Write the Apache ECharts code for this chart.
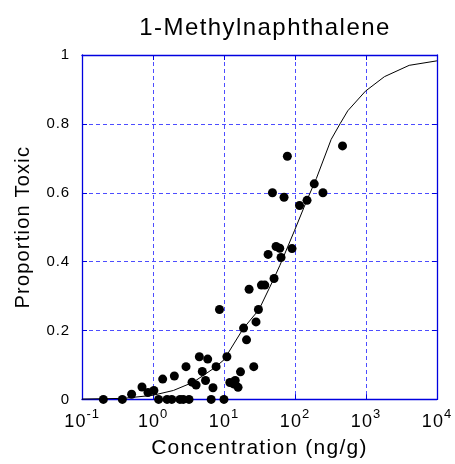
<!DOCTYPE html>
<html>
<head>
<meta charset="utf-8">
<script src="https://cdn.jsdelivr.net/npm/echarts@6/dist/echarts.min.js"></script>
<style>
html,body{margin:0;padding:0;background:#fff;}
#chart{width:455px;height:464px;}
</style>
</head>
<body>
<div id="chart"></div>
<script>
// Observed data points
var pointConc = [0.2, 0.37, 1.2, 1.58, 1.84, 2.4, 2.67, 3.22, 6.6, 10,
  0.5, 0.7, 0.85, 1.03, 1.37, 2.0, 2.92, 3.55, 4.05, 4.5, 4.95, 5.5, 5.9, 7.0, 7.75, 8.65,
  11.0, 12.1, 13.6, 14.4, 15.8, 17.1, 18.9, 20.8, 22.6, 26.3, 28.3, 30.6, 33.7, 37.6, 41.9,
  48.2, 50.8, 54.2, 61.1, 63.7, 70.2, 78.2, 91, 116, 148, 187, 248, 468];
var pointProp = [0, 0, 0, 0, 0, 0, 0, 0, 0, 0,
  0.015, 0.036, 0.02, 0.026, 0.059, 0.068, 0.095, 0.05, 0.042, 0.124, 0.081, 0.055, 0.117, 0.034, 0.095, 0.261,
  0.124, 0.049, 0.045, 0.055, 0.035, 0.08, 0.207, 0.173, 0.32, 0.095, 0.225, 0.261, 0.332, 0.332, 0.421,
  0.6, 0.351, 0.444, 0.439, 0.412, 0.587, 0.706, 0.438, 0.563, 0.578, 0.626, 0.6, 0.736];
// Fitted curve
var curveConc = [0.1, 0.38, 1.0, 1.94, 3.7, 7.4, 10, 18.6, 31.2, 49, 61, 99, 145, 200, 324, 434, 555, 984, 1820, 4070, 10000];
var curveProp = [0.001, 0.003, 0.012, 0.026, 0.05, 0.092, 0.115, 0.205, 0.261, 0.345, 0.388, 0.491, 0.575, 0.641, 0.755, 0.801, 0.838, 0.895, 0.937, 0.970, 0.983];
// Axis ticks
var yTicks = [0, 0.2, 0.4, 0.6, 0.8, 1];
var xTickExponents = [-1, 0, 1, 2, 3, 4];
var titleText = '1-Methylnaphthalene';
var xTitle = 'Concentration (ng/g)';
var yTitle = 'Proportion Toxic';

// Slightly spaced lettering, as in the original graphic
(function () {
  var proto = CanvasRenderingContext2D.prototype;
  if (!('letterSpacing' in proto)) return;
  function setSpacing(ctx) {
    var m = /(\d+(?:\.\d+)?)px/.exec(ctx.font || '');
    var fs = m ? parseFloat(m[1]) : 12;
    ctx.letterSpacing = (fs * 0.06).toFixed(2) + 'px';
  }
  var origFill = proto.fillText, origMeasure = proto.measureText;
  proto.fillText = function () { setSpacing(this); return origFill.apply(this, arguments); };
  proto.measureText = function () { setSpacing(this); return origMeasure.apply(this, arguments); };
})();

var FONT = 'Arial, "Liberation Sans", sans-serif';
var frameColor = '#0000e0';
var gridColor = '#4d4dff';

var pts = pointConc.map(function (c, i) { return [c, pointProp[i]]; });
var curve = curveConc.map(function (c, i) { return [c, curveProp[i]]; });

var chart = echarts.init(document.getElementById('chart'), null, {renderer: 'canvas'});
var xBase = {
  type: 'log', logBase: 10,
  min: Math.pow(10, xTickExponents[0]),
  max: Math.pow(10, xTickExponents[xTickExponents.length - 1]),
  axisLine: {show: true, onZero: false, lineStyle: {color: frameColor, width: 1.3}},
  axisTick: {show: true, inside: true, length: 5, lineStyle: {color: frameColor, width: 1}},
  minorTick: {show: false},
  minorSplitLine: {show: false}
};
var yBase = {
  type: 'value', min: yTicks[0], max: yTicks[yTicks.length - 1], interval: 0.2,
  axisLine: {show: true, onZero: false, lineStyle: {color: frameColor, width: 1.3}},
  axisTick: {show: true, inside: true, length: 5, lineStyle: {color: frameColor, width: 1}}
};
chart.setOption({
  animation: false,
  backgroundColor: '#fff',
  title: {
    text: titleText, left: 260, top: 11, textAlign: 'center',
    textStyle: {fontFamily: FONT, fontSize: 24, fontWeight: 'normal', color: '#000'}
  },
  grid: {left: 82, right: 17, top: 55, bottom: 55, containLabel: false},
  xAxis: [
    Object.assign({}, xBase, {
      position: 'bottom',
      name: xTitle, nameLocation: 'middle', nameGap: 31,
      nameTextStyle: {fontFamily: FONT, fontSize: 21, color: '#000'},
      splitLine: {show: true, lineStyle: {color: gridColor, type: [4, 3], width: 1, opacity: 1}},
      axisLabel: {
        show: true, margin: 8, color: '#000',
        formatter: function (v) {
          var e = Math.round(Math.log10(v));
          return '{b|10}{s|' + e + '}';
        },
        rich: {
          b: {fontFamily: FONT, fontSize: 18, color: '#000'},
          s: {fontFamily: FONT, fontSize: 13, color: '#000', padding: [0, 0, 16, 0]}
        }
      }
    }),
    Object.assign({}, xBase, {
      position: 'top',
      splitLine: {show: false},
      axisLabel: {show: false}
    })
  ],
  yAxis: [
    Object.assign({}, yBase, {
      position: 'left',
      name: yTitle, nameLocation: 'middle', nameGap: 48, nameRotate: 90,
      nameTextStyle: {fontFamily: FONT, fontSize: 20, color: '#000'},
      splitLine: {show: true, lineStyle: {color: gridColor, type: [4, 3], width: 1, opacity: 1}},
      axisLabel: {
        show: true, margin: 12, fontFamily: FONT, fontSize: 15, color: '#000',
        formatter: function (v) { return String(Math.round(v * 10) / 10); }
      }
    }),
    Object.assign({}, yBase, {
      position: 'right',
      splitLine: {show: false},
      axisLabel: {show: false}
    })
  ],
  series: [
    {
      type: 'line', data: curve, xAxisIndex: 0, yAxisIndex: 0,
      showSymbol: false, symbol: 'none', smooth: false,
      lineStyle: {color: '#000', width: 1}, z: 3, silent: true
    },
    {
      type: 'scatter', data: pts, xAxisIndex: 0, yAxisIndex: 0,
      symbol: 'circle', symbolSize: 9,
      itemStyle: {color: '#000', opacity: 1}, z: 4, silent: true
    }
  ]
});
</script>
</body>
</html>
